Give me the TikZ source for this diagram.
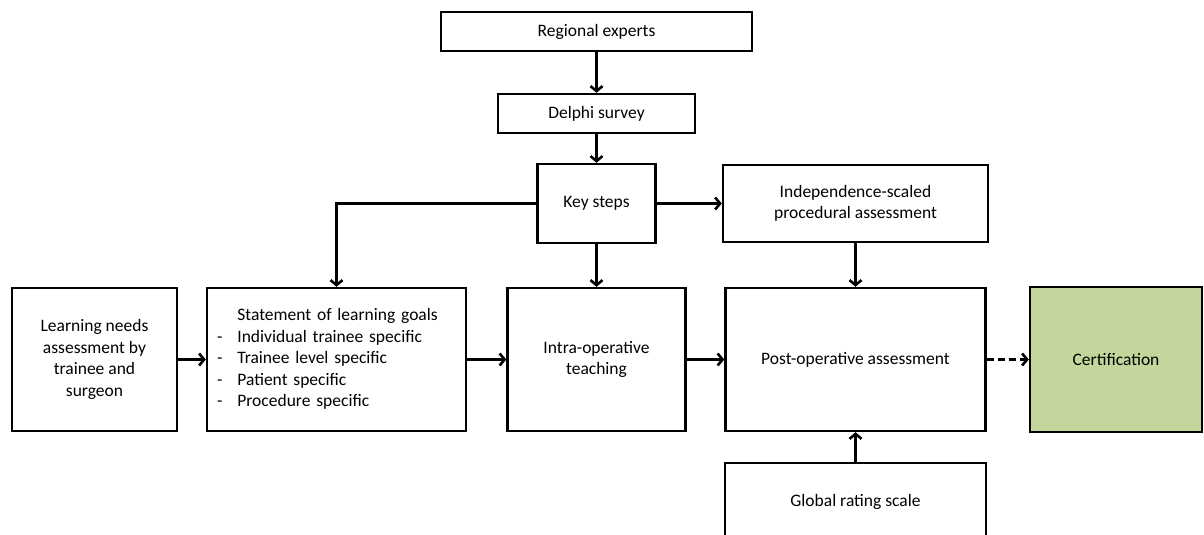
\documentclass[tikz,border=0pt]{standalone}
\usepackage{fontspec}
\setmainfont{Carlito}
\usetikzlibrary{arrows.meta}
\definecolor{certgreen}{HTML}{C3D69B}
\begin{document}
\begin{tikzpicture}[x=1pt,y=-1pt,
  box/.style={draw=black, line width=2.4pt, fill=white, inner sep=2pt, align=center,
    font=\fontsize{17.5}{21.5}\selectfont},
  conn/.style={line width=2.6pt, -{Straight Barb[length=5pt,width=12pt,line width=2.6pt]}},
  dashconn/.style={conn, dash pattern=on 7pt off 4pt}]
\clip (0,0) rectangle (1204,535);
\fill[white] (0,0) rectangle (1204,535);
\node[box, minimum width=311pt, minimum height=39pt] (reg) at (596.5,31.5) {Regional experts};
\node[box, minimum width=197pt, minimum height=39pt] (delphi) at (596.5,113.5) {Delphi survey};
\node[box, minimum width=118pt, minimum height=79pt] (key) at (596.5,203.5) {Key steps};
\node[box, minimum width=265pt, minimum height=77pt] (indep) at (855.5,203.5) {Independence-scaled\\procedural assessment};
\node[box, minimum width=165pt, minimum height=143pt] (learn) at (94.5,359.5) {Learning needs\\assessment by\\trainee and\\surgeon};
\node[box, minimum width=259pt, minimum height=143pt, text width=239pt, align=left, inner xsep=8.9pt] (stmt) at (336.5,359.5) {\begin{tabular}{@{}l@{\hspace{15pt}}l@{}}
 & Statement of learning goals\\
- & Individual trainee specific\\
- & Trainee level specific\\
- & Patient specific\\
- & Procedure specific
\end{tabular}};
\node[box, minimum width=178pt, minimum height=143pt] (intra) at (596.5,359.5) {Intra-operative\\teaching};
\node[box, minimum width=260pt, minimum height=143pt] (post) at (855.5,359.5) {Post-operative assessment};
\node[box, fill=certgreen, minimum width=172pt, minimum height=145pt] (cert) at (1116,359.5) {Certification};
\node[box, minimum width=261pt, minimum height=78pt] (global) at (855.5,502) {Global rating scale};
\draw[conn] (reg.south) -- (delphi.north);
\draw[conn] (delphi.south) -- (key.north);
\draw[conn] (key.west) -| (stmt.north);
\draw[conn] (key.east) -- (indep.west);
\draw[conn] (key.south) -- (intra.north);
\draw[conn] (indep.south) -- (post.north);
\draw[conn] (learn.east) -- (stmt.west);
\draw[conn] (stmt.east) -- (intra.west);
\draw[conn] (intra.east) -- (post.west);
\draw[dashconn] (post.east) -- (cert.west);
\draw[conn] (global.north) -- (post.south);
\end{tikzpicture}
\end{document}
